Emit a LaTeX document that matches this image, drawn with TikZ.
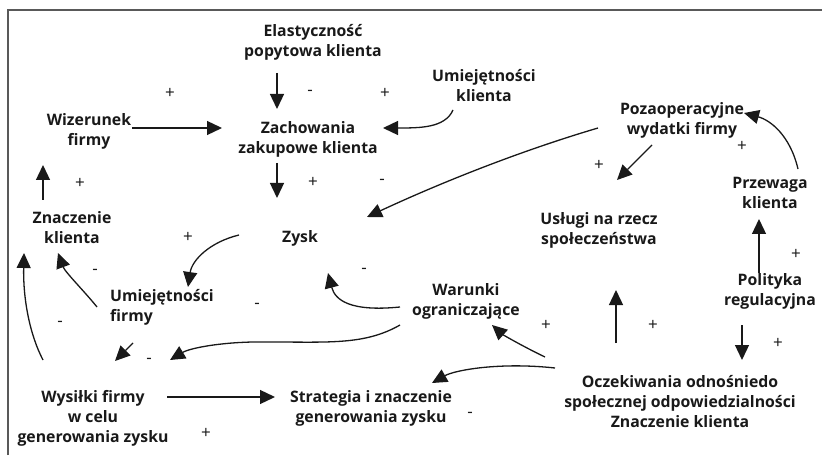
\documentclass[tikz,border=0pt]{standalone}
\usepackage{fontspec}
\setmainfont{Open Sans}
\usetikzlibrary{arrows.meta}
\begin{document}
\begin{tikzpicture}[x=1pt,y=-1pt,
  lbl/.style={font=\fontsize{15.8}{20}\selectfont\bfseries, align=center, inner sep=0pt, text=black!90},
  sgn/.style={font=\fontsize{17}{17}\selectfont, inner sep=0pt, text=black!90},
  arr/.style={-{Triangle[length=15pt,width=14pt]}, line width=1.3pt, draw=black!90},
  frame/.style={line width=2pt, draw=black!65},
]
\useasboundingbox (0,0) rectangle (822,457);
\draw[frame] (8,455) -- (8,10) -- (822,10);

% nodes
\node[lbl] (elast) at (313,42) {Elastyczność\\popytowa klienta};
\node[lbl] (zach) at (308,139) {Zachowania\\zakupowe klienta};
\node[lbl] (umk) at (484,86) {Umiejętności\\klienta};
\node[lbl] (wiz) at (89,131) {Wizerunek\\firmy};
\node[lbl] (znacz) at (72,228) {Znaczenie\\klienta};
\node[lbl] (zysk) at (300,238) {Zysk};
\node[lbl, align=left, anchor=west] (umf) at (110,307) {Umiejętności\\firmy};
\node[lbl] (poza) at (682,120) {Pozaoperacyjne\\wydatki firmy};
\node[lbl] (usl) at (599,230) {Usługi na rzecz\\społeczeństwa};
\node[lbl] (przew) at (770,193) {Przewaga\\klienta};
\node[lbl] (polit) at (770,291) {Polityka\\regulacyjna};
\node[lbl] (warunki) at (466,301) {Warunki\\ograniczające};
\node[lbl] (ocz) at (680,402) {Oczekiwania odnośniedo\\społecznej odpowiedzialności\\Znaczenie klienta};
\node[lbl] (strat) at (371,408) {Strategia i znaczenie\\generowania zysku};
\node[lbl] (wys) at (93,418) {Wysiłki firmy\\w celu\\generowania zysku};

% signs
\node[sgn] (s1) at (170,93) {+};
\node[sgn] (s2) at (310,93) {-};
\node[sgn] (s3) at (385,93) {+};
\node[sgn] (s4) at (313,182) {+};
\node[sgn] (s5) at (382,182) {-};
\node[sgn] (s6) at (80,183) {+};
\node[sgn] (s7) at (188,237) {+};
\node[sgn] (s8) at (95,272) {-};
\node[sgn] (s9) at (257,306) {-};
\node[sgn] (s10) at (60,324) {-};
\node[sgn] (s11) at (149,361) {-};
\node[sgn] (s12) at (206,433) {+};
\node[sgn] (s13) at (470,415) {-};
\node[sgn] (s14) at (364,271) {-};
\node[sgn] (s15) at (546,325) {+};
\node[sgn] (s16) at (653,325) {+};
\node[sgn] (s17) at (778,343) {+};
\node[sgn] (s18) at (796,254) {+};
\node[sgn] (s19) at (742,146) {+};
\node[sgn] (s20) at (599,165) {+};

% connectors
\draw[arr] ([shift={(-36,31)}]elast.center) -- ([shift={(-31,-30)}]zach.center);
\draw[arr] ([shift={(43,-3)}]wiz.center) -- ([shift={(-86,-11)}]zach.center);
\draw[arr] ([shift={(-31,24)}]umk.center) .. controls +(-8,18) and +(37,0) .. ([shift={(75,-11)}]zach.center);
\draw[arr] ([shift={(-31,24)}]zach.center) -- ([shift={(-23,-40)}]zysk.center);
\draw[arr] ([shift={(-84,8)}]poza.center) .. controls +(-78,23) and +(73,-34) .. ([shift={(67,-21)}]zysk.center);
\draw[arr] ([shift={(28,-24)}]przew.center) .. controls +(-8,-34) and +(26,7) .. ([shift={(62,-7)}]poza.center);
\draw[arr] ([shift={(-30,25)}]poza.center) -- ([shift={(18,-50)}]usl.center);
\draw[arr] ([shift={(-11,-18)}]polit.center) -- ([shift={(-11,26)}]przew.center);
\draw[arr] ([shift={(-28,34)}]polit.center) -- ([shift={(62,-42)}]ocz.center);
\draw[arr] ([shift={(-64,-59)}]ocz.center) -- ([shift={(17,60)}]usl.center);
\draw[arr] ([shift={(-135,-45)}]ocz.center) .. controls +(-25,-12) and +(10,9) .. ([shift={(26,24)}]warunki.center);
\draw[arr] ([shift={(-125,-34)}]ocz.center) .. controls +(-55,-6) and +(23,-13) .. ([shift={(61,-25)}]strat.center);
\draw[arr] ([shift={(74,-21)}]wys.center) -- ([shift={(-96,-11)}]strat.center);
\draw[arr] ([shift={(-66,6)}]warunki.center) .. controls +(-50,5) and +(7,27) .. ([shift={(28,35)}]zysk.center);
\draw[arr] ([shift={(-66,24)}]warunki.center) .. controls +(-35,20) and +(60,0) .. (270,342) .. controls +(-45,-1) and +(20,-12) .. ([shift={(77,-58)}]wys.center);
\draw[arr] ([shift={(23,36)}]umf.west) -- ([shift={(22,-57)}]wys.center);
\draw[arr] ([shift={(-61,-3)}]zysk.center) .. controls +(-29,7) and +(4,-27) .. ([shift={(78,-20)}]umf.west);
\draw[arr] ([shift={(-13,0)}]umf.west) .. controls +(-12,-15) and +(7,19) .. ([shift={(-14,25)}]znacz.center);
\draw[arr] ([shift={(-50,-58)}]wys.center) .. controls +(-13,-25) and +(-1,47) .. ([shift={(-48,25)}]znacz.center);
\draw[arr] ([shift={(-29,-28)}]znacz.center) -- ([shift={(-46,34)}]wiz.center);
\end{tikzpicture}
\end{document}
